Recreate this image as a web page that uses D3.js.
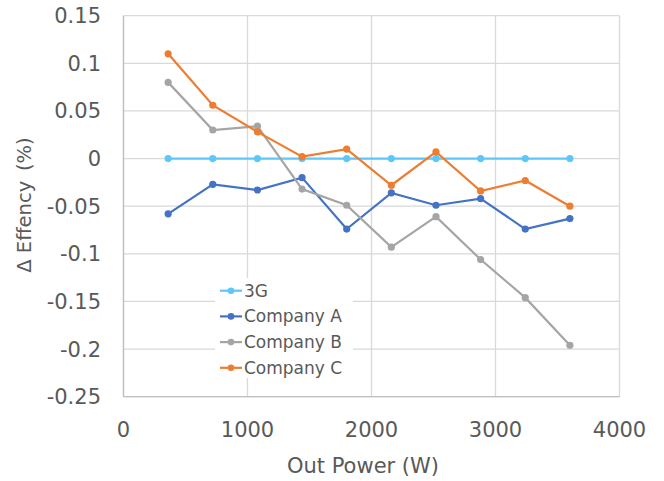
<!DOCTYPE html>
<html>
<head>
<meta charset="utf-8">
<script src="https://cdn.jsdelivr.net/npm/d3@7"></script>
<style>
  body { margin: 0; background: #fff; }
  text { font-family: "DejaVu Sans", Verdana, sans-serif; fill: #595959; }
</style>
</head>
<body>
<svg id="chart" width="664" height="481"></svg>
<script>
const power = [360, 720, 1080, 1440, 1800, 2160, 2520, 2880, 3240, 3600]
const seriesNames = ['3G', 'Company A', 'Company B', 'Company C']
const g3 = [0, 0, 0, 0, 0, 0, 0, 0, 0, 0]
const companyA = [-0.058, -0.027, -0.033, -0.020, -0.074, -0.036, -0.049, -0.042, -0.074, -0.063]
const companyB = [0.080, 0.030, 0.034, -0.032, -0.049, -0.093, -0.061, -0.106, -0.146, -0.196]
const companyC = [0.110, 0.056, 0.028, 0.002, 0.010, -0.028, 0.007, -0.034, -0.023, -0.050]
const xTicks = [0, 1000, 2000, 3000, 4000]
const yTicks = [0.15, 0.1, 0.05, 0, -0.05, -0.1, -0.15, -0.2, -0.25]

const colors = ['#5bc8f9', '#4472c4', '#a5a5a5', '#ed7d31']
const values = [g3, companyA, companyB, companyC]

const svg = d3.select('#chart')
const plotLeft = 123.5, plotRight = 619.5, plotTop = 15.7, plotBottom = 396.7

const x = d3.scaleLinear().domain([0, 4000]).range([plotLeft, plotRight])
const y = d3.scaleLinear().domain([-0.25, 0.15]).range([plotBottom, plotTop])

// gridlines
svg.append('g').selectAll('line')
    .data(yTicks)
    .enter().append('line')
    .attr('x1', plotLeft).attr('x2', plotRight)
    .attr('y1', (d) => y(d)).attr('y2', (d) => y(d))
    .attr('stroke', '#d9d9d9').attr('stroke-width', 1.3)

svg.append('g').selectAll('line')
    .data(xTicks)
    .enter().append('line')
    .attr('x1', (d) => x(d)).attr('x2', (d) => x(d))
    .attr('y1', plotTop).attr('y2', plotBottom)
    .attr('stroke', '#d9d9d9').attr('stroke-width', 1.3)

// axis lines
svg.append('line')
    .attr('x1', plotLeft).attr('x2', plotLeft).attr('y1', plotTop).attr('y2', plotBottom)
    .attr('stroke', '#bfbfbf').attr('stroke-width', 1.3)
svg.append('line')
    .attr('x1', plotLeft).attr('x2', plotRight).attr('y1', plotBottom).attr('y2', plotBottom)
    .attr('stroke', '#bfbfbf').attr('stroke-width', 1.3)

// tick labels
svg.append('g').selectAll('text')
    .data(yTicks)
    .enter().append('text')
    .attr('x', 101)
    .attr('y', (d) => y(d) + 7.5)
    .attr('text-anchor', 'end')
    .style('font-size', '21px')
    .text((d) => d)

svg.append('g').selectAll('text')
    .data(xTicks)
    .enter().append('text')
    .attr('x', (d) => x(d))
    .attr('y', 437)
    .attr('text-anchor', 'middle')
    .style('font-size', '21px')
    .text((d) => d)

// axis titles
svg.append('text')
    .attr('x', 363).attr('y', 473)
    .attr('text-anchor', 'middle')
    .style('font-size', '21px')
    .text('Out Power (W)')

svg.append('text')
    .attr('transform', 'translate(31,205) rotate(-90)')
    .attr('text-anchor', 'middle')
    .style('font-size', '19.5px')
    .text('Δ Effency\u2002(%)')

// series
const line = d3.line()
    .x((d, i) => x(power[i]))
    .y((d) => y(d))

values.forEach((vals, k) => {
    const g = svg.append('g')
    g.append('path')
        .datum(vals)
        .attr('d', line)
        .attr('fill', 'none')
        .attr('stroke', colors[k])
        .attr('stroke-width', 2.2)
    g.selectAll('circle')
        .data(vals)
        .enter().append('circle')
        .attr('cx', (d, i) => x(power[i]))
        .attr('cy', (d) => y(d))
        .attr('r', 3.6)
        .attr('fill', colors[k])
})

// legend
const legend = svg.append('g')
legend.append('rect')
    .attr('x', 215).attr('y', 278).attr('width', 138).attr('height', 100)
    .attr('fill', '#fff')

const items = legend.selectAll('g')
    .data(seriesNames)
    .enter().append('g')
    .attr('transform', (d, i) => `translate(0,${290.7 + i * 25.7})`)

items.append('line')
    .attr('x1', 220).attr('x2', 242)
    .attr('stroke', (d, i) => colors[i])
    .attr('stroke-width', 2.2)
items.append('circle')
    .attr('cx', 231).attr('r', 3.3)
    .attr('fill', (d, i) => colors[i])
items.append('text')
    .attr('x', 244).attr('y', 6)
    .style('font-size', '17px')
    .text((d) => d)
</script>
</body>
</html>
